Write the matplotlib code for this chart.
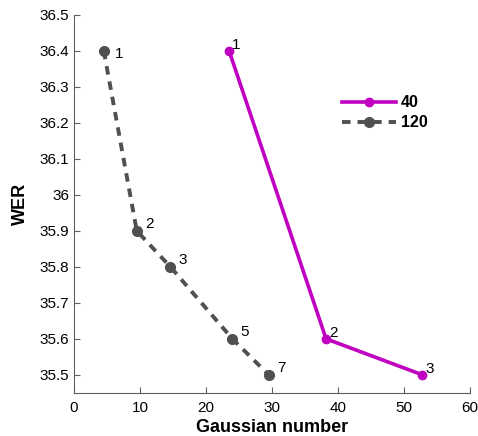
import matplotlib.pyplot as plt

plt.rcParams['font.family'] = ['Liberation Sans', 'DejaVu Sans']

# series "40"
x40 = [23.5, 38.2, 52.8]
y40 = [36.4, 35.6, 35.5]
lab40 = ['1', '2', '3']

# series "120"
x120 = [4.5, 9.5, 14.6, 24.0, 29.5]
y120 = [36.4, 35.9, 35.8, 35.6, 35.5]
lab120 = ['1', '2', '3', '5', '7']

purple = '#c000c0'
grey = '#505050'

fig = plt.figure(figsize=(4.78, 4.36), dpi=100)
ax = fig.add_axes([0.155, 0.099, 0.828, 0.867])

ax.plot(x40, y40, '-', color=purple, lw=2.6, marker='o', ms=6, label='40')
ax.plot(x120, y120, '--', color=grey, lw=2.8, marker='o', ms=7,
        dashes=(2.2, 1.8), label='120')

for x, y, t in zip(x40, y40, lab40):
    ax.annotate(t, (x, y), xytext=(2, 1), textcoords='offset points', fontsize=11)
for x, y, t in zip(x120, y120, lab120):
    ax.annotate(t, (x, y), xytext=(6, 2) if t != '1' else (8, -5),
                textcoords='offset points', fontsize=11)

ax.set_xlim(0, 60)
ax.set_ylim(35.45, 36.5)
ax.set_xticks(range(0, 61, 10))
ax.set_yticks([35.5, 35.6, 35.7, 35.8, 35.9, 36, 36.1, 36.2, 36.3, 36.4, 36.5])
ax.set_yticklabels(['35.5', '35.6', '35.7', '35.8', '35.9', '36', '36.1', '36.2', '36.3', '36.4', '36.5'])
ax.tick_params(direction='in', labelsize=11, color='#606060', length=4)
ax.tick_params(axis='x', pad=6)
for s in ['top', 'right']:
    ax.spines[s].set_visible(False)
for s in ['left', 'bottom']:
    ax.spines[s].set_color('#606060')

ax.set_xlabel('Gaussian number', fontsize=13, fontweight='bold', labelpad=3)
ax.set_ylabel('WER', fontsize=13, fontweight='bold', labelpad=8)

leg = ax.legend(loc='upper left', bbox_to_anchor=(0.64, 0.825), frameon=False,
                prop={'weight': 'bold', 'size': 11.5}, handlelength=3.4,
                handletextpad=0.3, labelspacing=0.3)

fig.savefig('out.png', dpi=100)
